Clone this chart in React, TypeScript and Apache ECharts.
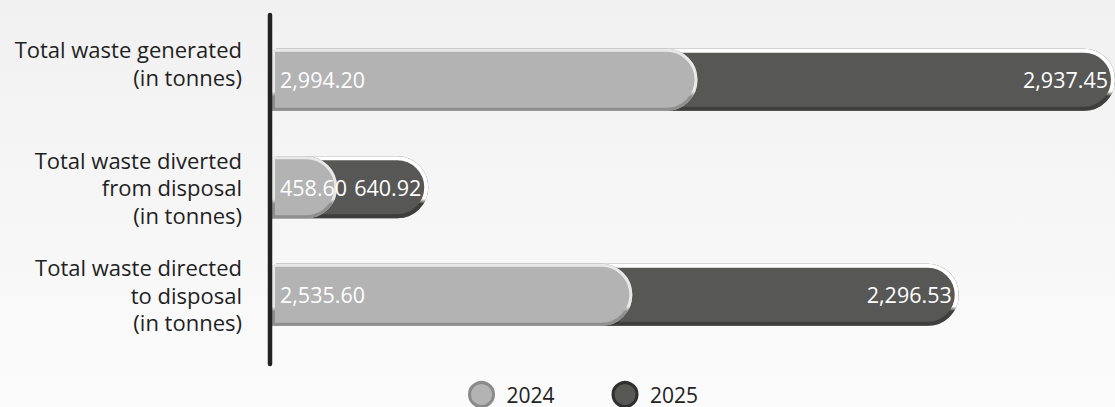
import React, { useEffect, useRef } from "react";
import * as echarts from "echarts";

const categories = [
  "Total waste generated\n(in tonnes)",
  "Total waste diverted\nfrom disposal\n(in tonnes)",
  "Total waste directed\nto disposal\n(in tonnes)",
];
const seriesNames = ["2024", "2025"];
const values2024 = [2994.2, 458.6, 2535.6];
const values2025 = [2937.45, 640.92, 2296.53];

const FONT = "'Open Sans', 'Noto Sans', sans-serif";

const fmt = (v: number) =>
  v.toLocaleString("en-US", { minimumFractionDigits: 2, maximumFractionDigits: 2 });

const vGrad = (top: string, bottom: string, split: number) =>
  new echarts.graphic.LinearGradient(0, 0, 0, 1, [
    { offset: 0, color: top },
    { offset: split, color: top },
    { offset: Math.min(1, split + 0.08), color: bottom },
    { offset: 1, color: bottom },
  ]);

export default function App() {
  const ref = useRef<HTMLDivElement>(null);

  useEffect(() => {
    if (!ref.current) return;
    const chart = echarts.init(ref.current, undefined, { renderer: "svg" });
    const totals = values2024.map((v, i) => v + values2025[i]);
    const maxTotal = Math.max(...totals);

    const light = "#b3b3b3";
    const dark = "#575755";
    const radius = [0, 31, 31, 0];
    const BW = 62;

    const option: any = {
      animation: false,
      backgroundColor: new echarts.graphic.LinearGradient(0, 0, 0, 1, [
        { offset: 0, color: "#f1f1f1" },
        { offset: 1, color: "#fbfbfb" },
      ]),
      grid: { left: 272, right: -4, top: 26, bottom: 58.5, containLabel: false },
      xAxis: {
        type: "value",
        min: 0,
        max: maxTotal,
        show: false,
      },
      yAxis: {
        type: "category",
        inverse: true,
        data: categories,
        axisLine: { show: false },
        axisTick: { show: false },
        axisLabel: {
          color: "#1f1f1f",
          fontFamily: FONT,
          fontSize: 22,
          fontWeight: 500,
          lineHeight: 27.5,
          align: "right",
          margin: 30,
          formatter: (v: string, i: number) => (i === 0 ? v + "\n{s|}" : v),
          rich: { s: { lineHeight: 34, fontSize: 1 } },
        },
      },
      legend: {
        data: [
          { name: seriesNames[0], itemStyle: { color: light, borderColor: "#8a8a8a", borderWidth: 3 } },
          { name: seriesNames[1], itemStyle: { color: dark, borderColor: "#2f2f2f", borderWidth: 3 } },
        ],
        icon: "circle",
        itemWidth: 24,
        itemHeight: 24,
        itemGap: 57,
        top: 381,
        left: 468,
        padding: 0,
        textStyle: {
          color: "#222",
          fontFamily: FONT,
          fontSize: 21,
          fontWeight: 500,
          lineHeight: 22,
          padding: [2, 0, 0, 8],
        },
      },
      graphic: [
        {
          type: "line",
          shape: { x1: 270, y1: 15, x2: 270, y2: 364 },
          style: { stroke: "#222", lineWidth: 4.5, lineCap: "round" },
          z: 100,
        },
      ],
      series: [
        {
          name: "2025 outline",
          type: "bar",
          data: totals,
          barWidth: BW,
          barGap: "-100%",
          silent: true,
          itemStyle: {
            color: dark,
            borderColor: vGrad("#3a3a3a", "#707070", 0.6),
            borderWidth: 8,
            borderRadius: radius,
          },
        },
        {
          name: seriesNames[1],
          type: "bar",
          data: totals,
          barWidth: BW,
          barGap: "-100%",
          itemStyle: {
            color: dark,
            borderColor: vGrad("#ffffff", "#3e3e3d", 0.7),
            borderWidth: 4,
            borderRadius: radius,
          },
          label: {
            show: true,
            position: "insideRight",
            distance: 7,
            color: "#fff",
            fontFamily: FONT,
            fontSize: 21.5,
            formatter: (p: any) => fmt(values2025[p.dataIndex]),
          },
        },
        {
          name: "2024 outline",
          type: "bar",
          data: values2024,
          barWidth: BW,
          barGap: "-100%",
          silent: true,
          itemStyle: {
            color: light,
            borderColor: vGrad("#8a8a8a", "#c6c6c6", 0.6),
            borderWidth: 8,
            borderRadius: radius,
          },
        },
        {
          name: seriesNames[0],
          type: "bar",
          data: values2024,
          barWidth: BW,
          barGap: "-100%",
          itemStyle: {
            color: light,
            borderColor: vGrad("#e8e8e8", "#8f8f8f", 0.7),
            borderWidth: 3,
            borderRadius: radius,
          },
          label: {
            show: true,
            position: "insideLeft",
            distance: 8,
            color: "#fff",
            fontFamily: FONT,
            fontSize: 21.5,
            formatter: (p: any) => fmt(values2024[p.dataIndex]),
          },
        },
      ],
    };
    chart.setOption(option);
    return () => chart.dispose();
  }, []);

  return (
    <div
      ref={ref}
      style={{ position: "fixed", left: 0, top: 0, width: 1115, height: 407 }}
    />
  );
}
